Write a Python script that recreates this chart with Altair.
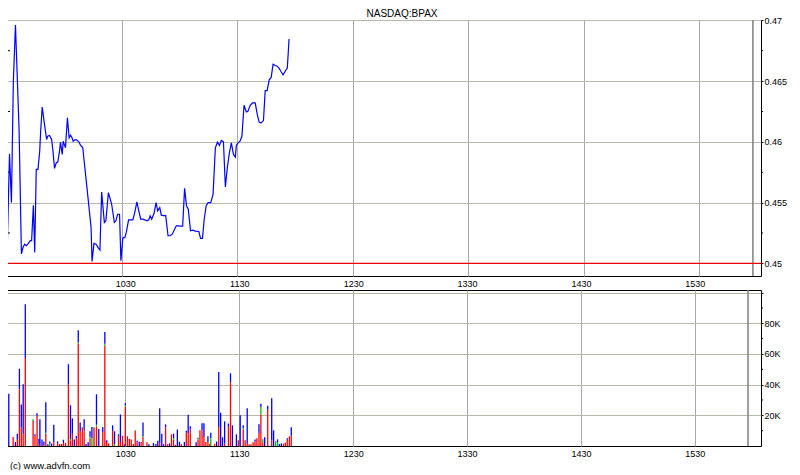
import altair as alt
import pandas as pd

FONT = "Liberation Sans"

# ---- price line: minutes after 09:30, last trade price ----
price_min = [
    0.0, 0.4, 1.6, 2.6, 3.6, 4.7, 6.6, 7.8, 8.6, 9.5,
    10.4, 11.4, 12.4, 13.1, 14.0, 14.7, 15.5, 16.4, 17.3, 17.8,
    18.6, 19.8, 20.9, 21.4, 22.4, 23.5, 24.2, 25.0, 25.9, 26.7,
    27.6, 28.1, 29.0, 29.5, 30.2, 30.7, 31.7, 32.6, 33.3, 34.0,
    34.7, 35.5, 36.4, 37.6, 38.5, 39.7, 40.4, 42.3, 44.0, 44.5,
    45.5, 46.6, 47.6, 48.6, 49.5,
    50.9, 51.7, 53.0, 54.0, 54.7, 56.1, 56.9, 57.8, 58.8, 59.5,
    60.5, 61.6, 62.3, 63.5, 64.7, 65.7, 66.7, 67.8, 68.8, 69.8,
    70.9, 71.9, 73.0, 74.0, 74.7, 75.5, 76.7, 77.8, 78.6, 79.7,
    80.5, 81.7, 82.8, 84.0, 85.0, 86.2, 87.4, 88.3, 89.1, 90.5,
    91.6, 92.6, 93.6, 94.5, 95.7, 96.9, 98.1,
    100.0, 100.9, 101.9, 102.8, 103.8, 104.8, 106.2, 107.4, 108.6, 109.7,
    110.7, 111.7, 112.8, 113.8, 114.8, 115.9, 116.9, 118.0, 119.0, 119.5,
    120.4, 121.4, 122.4, 123.5, 124.7, 125.5, 126.7, 127.9, 129.3, 130.4,
    131.4, 132.4, 133.6, 134.5, 135.5, 136.6, 137.6, 138.6, 139.7, 140.7,
    141.7, 142.7, 143.8, 144.8, 146.0, 146.9,
]
price_val = [
    0.45432, 0.45104, 0.45902, 0.45500, 0.46497, 0.46962, 0.46087, 0.45077, 0.45131, 0.45158,
    0.45145, 0.45164, 0.45186, 0.45186, 0.45478, 0.45090, 0.45773, 0.45773, 0.45923, 0.46087,
    0.46287, 0.46142, 0.46019, 0.46046, 0.46052, 0.46019, 0.45923, 0.45781, 0.45828, 0.45833,
    0.45923, 0.45997, 0.45896, 0.46005, 0.45973, 0.45951, 0.46197, 0.46033, 0.46055, 0.46038,
    0.46005, 0.46016, 0.46016, 0.46000, 0.45973, 0.45951, 0.45842, 0.45555, 0.45295, 0.45016,
    0.45164, 0.45158, 0.45131, 0.45109, 0.45587,
    0.45336, 0.45350, 0.45582, 0.45527, 0.45486, 0.45336, 0.45350, 0.45404, 0.45404, 0.45022,
    0.45208, 0.45213, 0.45254, 0.45358, 0.45358, 0.45358, 0.45418, 0.45505, 0.45432, 0.45363,
    0.45363, 0.45358, 0.45350, 0.45358, 0.45391, 0.45363, 0.45410, 0.45500, 0.45432, 0.45459,
    0.45396, 0.45393, 0.45393, 0.45227, 0.45227, 0.45240, 0.45281, 0.45309, 0.45309, 0.45306,
    0.45306, 0.45617, 0.45473, 0.45445, 0.45268, 0.45273, 0.45265,
    0.45262, 0.45205, 0.45205, 0.45363, 0.45473, 0.45500, 0.45500, 0.45568, 0.45951, 0.45997,
    0.45970, 0.46011, 0.46000, 0.45628, 0.45787, 0.45910, 0.45992, 0.45896, 0.45874, 0.45970,
    0.45992, 0.46005, 0.46046, 0.46301, 0.46246, 0.46251, 0.46301, 0.46320, 0.46320, 0.46224,
    0.46161, 0.46156, 0.46175, 0.46421, 0.46421, 0.46511, 0.46530, 0.46639, 0.46628, 0.46623,
    0.46607, 0.46579, 0.46552, 0.46579, 0.46607, 0.46847,
]

# ---- volume bars: minutes after 09:30, split in thousands of shares ----
vol_min = [
    -1.4, 0.9, 2.1, 3.1, 4.2, 5.2, 6.2, 7.3, 11.4, 12.4,
    13.5, 14.5, 15.0, 16.1, 17.1, 18.1, 19.2, 20.2, 21.2, 22.3,
    24.3, 25.4, 26.4, 27.4, 28.5, 30.0, 31.1, 32.1, 33.1, 34.2,
    35.2, 36.2, 37.3, 38.3, 39.3, 40.4, 41.4, 42.4, 43.5, 44.8,
    46.0, 48.1, 49.2, 50.2, 51.2, 53.3, 54.3, 56.4, 57.4, 58.5,
    59.5, 60.0, 61.1, 62.1, 63.1, 64.2, 65.2, 66.2, 67.3, 68.3,
    69.3, 71.4, 72.4, 74.8, 76.1, 77.1, 78.1, 79.2, 80.2, 81.2,
    82.3, 83.3, 84.3, 85.4, 86.4, 87.4, 88.5, 89.5, 91.1, 92.1,
    93.1, 94.2, 97.3, 98.3, 99.3, 100.4, 101.4, 102.4, 103.5, 104.5,
    105.0, 107.1, 108.1, 109.2, 110.2, 111.2, 112.3, 114.3, 115.4, 116.4,
    118.5, 119.5, 120.5, 122.1, 123.1, 124.2, 125.2, 126.2, 127.3, 128.3,
    129.3, 130.4, 131.4, 132.4, 133.4, 135.0, 137.1, 138.1, 139.2, 140.2,
    141.2, 142.2, 143.3, 144.3, 145.3, 146.4, 147.4,
]
vol_red_k = [
    0, 5.9, 0, 4.1, 37.0, 12.0, 8.0, 57.4, 16.3, 6.3,
    19.8, 1.5, 0, 0, 0.5, 8.0, 0, 0, 0, 2.6,
    1.5, 1.3, 1.3, 2.0, 2.0, 40.0, 3.7, 8.0, 0, 4.8,
    66.7, 9.3, 12.0, 10.2, 0, 0, 5.0, 0, 11.7, 12.8,
    0, 8.9, 65.4, 2.6, 1.7, 9.8, 0, 6.5, 2.6, 6.7,
    0, 25.6, 6.3, 4.8, 4.3, 1.3, 9.8, 2.4, 0, 2.6,
    5.9, 2.4, 0, 0, 0, 0, 2.2, 0, 0, 12.2,
    1.1, 0, 7.6, 4.1, 0.7, 0, 0, 1.1, 0, 9.1,
    8.0, 10.7, 0, 4.1, 10.2, 10.2, 5.9, 2.6, 2.6, 1.5,
    0, 1.5, 0, 12.4, 0, 0, 1.5, 13.0, 41.5, 0,
    0, 3.7, 0, 10.7, 3.7, 1.5, 1.1, 1.1, 2.4, 3.0,
    5.0, 8.5, 20.6, 2.0, 0, 23.7, 3.7, 0, 0, 0,
    0, 0, 1.5, 2.2, 4.1, 6.3, 6.7,
]
vol_green_k = [
    0, 0, 0, 0, 0, 0, 0, 0, 1.1, 0,
    0, 0, 0, 0, 0, 0.7, 0, 1.5, 0, 0,
    0, 0, 0, 0, 0, 0, 0.7, 0, 0, 0,
    0.7, 0, 0.4, 0, 0, 0, 1.0, 5.2, 0.5, 1.1,
    0, 0, 1.3, 0, 0, 0, 1.3, 0, 0, 0,
    0, 0.9, 0, 0, 0, 0, 0.4, 0, 0, 0,
    0.7, 0, 0, 0, 0, 0, 0, 0, 0, 0,
    0, 0, 0, 1.1, 0, 0, 0, 0, 0, 0,
    0, 0, 0, 0.7, 0, 0, 0, 0, 0, 0,
    5.2, 0, 0, 0, 0, 0, 0, 0, 0, 0,
    0, 0, 0, 0.9, 0, 0, 0, 0, 0, 0,
    0, 0, 4.8, 1.7, 0, 0, 0, 0, 2.6, 2.6,
    0, 0, 0, 0, 0, 0, 0,
]
vol_blue_k = [
    34.1, 0, 2.6, 3.9, 13.4, 15.0, 32.2, 35.0, 0, 1.3,
    1.5, 3.3, 17.4, 4.3, 2.5, 19.8, 1.1, 1.5, 1.7, 11.3,
    1.5, 0, 0, 2.1, 0, 13.3, 22.1, 10.0, 4.3, 1.7,
    8.0, 6.1, 0, 7.2, 1.3, 2.4, 3.6, 7.2, 0, 19.8,
    11.1, 3.5, 7.6, 1.1, 0, 3.7, 8.3, 1.1, 18.0, 0,
    1.1, 1.3, 0, 0, 0, 0, 0, 1.1, 2.8, 0,
    8.8, 0, 1.1, 2.0, 1.3, 3.5, 22.4, 8.0, 1.1, 1.9,
    0, 1.7, 0, 2.8, 0, 10.7, 2.8, 0, 2.6, 0.9,
    12.4, 2.1, 2.4, 0.6, 0, 4.6, 8.9, 0, 3.7, 0,
    3.5, 0, 3.0, 35.9, 21.7, 5.7, 14.6, 1.6, 5.9, 13.5,
    7.6, 0, 20.0, 1.9, 0, 23.1, 0, 0, 0, 1.3,
    0, 5.6, 2.2, 0.6, 5.7, 2.6, 27.4, 10.2, 0.4, 1.7,
    1.3, 1.7, 0, 0, 0.9, 0, 5.5,
]

prev_close = [0.45]
session_end = [388]
hour_ticks = [60, 120, 180, 240, 300, 360]
price_major = [0.45, 0.455, 0.46, 0.465, 0.47]
price_minor = [0.4525, 0.4575, 0.4625, 0.4675]
vol_major = [20000, 40000, 60000, 80000, 100000]
vol_minor = [10000, 30000, 50000, 70000, 90000]

W, H1, H2 = 754, 256, 156
GRID_X = "#a8a8a8"
GRID_Y = "#b8b8a8"

price_df = pd.DataFrame({"t": price_min, "price": price_val})
rows = []
for t, r, g, b in zip(vol_min, vol_red_k, vol_green_k, vol_blue_k):
    base = 0.0
    for part, v in (("red", r), ("green", g), ("blue", b)):
        if v > 0:
            rows.append({"t": t, "part": part, "v0": base * 1000, "v1": (base + v) * 1000})
            base += v
vol_df = pd.DataFrame(rows)

x_scale = alt.Scale(domain=[0.3, 392.2], nice=False, zero=False)
p_scale = alt.Scale(domain=[0.448956, 0.47003], nice=False, zero=False)
v_scale = alt.Scale(domain=[0, 101700], nice=False)
hhmm = "'' + (floor((datum.value + 570) / 60) * 100 + (datum.value + 570) % 60)"

# shared axis definitions (re-used in every layer so they merge cleanly)
x_axis_top_panel = alt.Axis(values=hour_ticks, grid=True, gridColor=GRID_X, labels=False,
                            ticks=False, tickSize=0, domain=False, minExtent=0, maxExtent=0)
y_axis_price = alt.Axis(orient="right", values=price_major, format=".3~f", grid=True,
                        gridColor=GRID_Y, tickSize=2, tickColor="black", labelPadding=1,
                        domain=False)
x_axis_vol_bottom = alt.Axis(orient="bottom", values=hour_ticks, labelExpr=hhmm, grid=True,
                             gridColor=GRID_X, ticks=False, tickSize=0, domain=False,
                             labelPadding=3)
x_axis_vol_top = alt.Axis(orient="top", values=hour_ticks, labelExpr=hhmm, grid=False,
                          ticks=False, tickSize=0, domain=False, labelPadding=2,
                          minExtent=9, maxExtent=9)
y_axis_vol = alt.Axis(orient="right", values=vol_major, grid=True, gridColor=GRID_Y,
                      labelExpr="datum.value >= 100000 ? '' : (datum.value / 1000) + 'K'",
                      tickSize=2, tickColor="black", labelPadding=1, domain=False)

# ---------------- top panel ----------------
line = alt.Chart(price_df).mark_line(color="#0000ff", strokeWidth=1.2, clip=True).encode(
    x=alt.X("t:Q", scale=x_scale, title=None, axis=x_axis_top_panel),
    y=alt.Y("price:Q", scale=p_scale, title=None, axis=y_axis_price),
)
red_rule = alt.Chart(pd.DataFrame({"price": prev_close})).mark_rule(
    color="#ee0000", strokeWidth=1.2).encode(
    y=alt.Y("price:Q", scale=p_scale, title=None, axis=y_axis_price)
)
sess_top = alt.Chart(pd.DataFrame({"t": session_end})).mark_rule(
    color="#808080", strokeWidth=1.5).encode(
    x=alt.X("t:Q", scale=x_scale, title=None, axis=x_axis_top_panel)
)
pminor = pd.DataFrame({"price": price_minor})
minor_l = alt.Chart(pminor).mark_rule(color="black").encode(
    y=alt.Y("price:Q", scale=p_scale, title=None, axis=y_axis_price),
    x=alt.value(0), x2=alt.value(3))
minor_r = alt.Chart(pminor).mark_rule(color="black").encode(
    y=alt.Y("price:Q", scale=p_scale, title=None, axis=y_axis_price),
    x=alt.value(W), x2=alt.value(W + 2))

top = alt.layer(sess_top, red_rule, minor_l, minor_r, line).properties(
    width=W, height=H1,
    title=alt.TitleParams("NASDAQ:BPAX", fontSize=10, font=FONT, fontWeight="normal",
                          anchor="middle", dx=18, offset=-3, color="black"),
)

# ---------------- volume panel ----------------
bars = alt.Chart(vol_df).mark_bar(size=1.3, clip=True).encode(
    x=alt.X("t:Q", scale=x_scale, title=None, axis=x_axis_vol_bottom),
    y=alt.Y("v0:Q", scale=v_scale, title=None, axis=y_axis_vol),
    y2="v1:Q",
    color=alt.Color("part:N", legend=None,
                    scale=alt.Scale(domain=["red", "green", "blue"],
                                    range=["#ff0000", "#00c000", "#0000ff"])),
)
sess_bot = alt.Chart(pd.DataFrame({"t": session_end})).mark_rule(
    color="#808080", strokeWidth=1.5).encode(
    x=alt.X("t:Q", scale=x_scale, title=None, axis=x_axis_vol_top)
)
vminor = pd.DataFrame({"v0": vol_minor})
vminor_r = alt.Chart(vminor).mark_rule(color="black").encode(
    y=alt.Y("v0:Q", scale=v_scale, title=None, axis=y_axis_vol),
    x=alt.value(W), x2=alt.value(W + 2))

bottom = alt.layer(bars, sess_bot, vminor_r).resolve_axis(x="independent").properties(
    width=W, height=H2)

chart = alt.vconcat(top, bottom, spacing=0).properties(
    background="white",
    padding={"left": -3, "top": 0, "right": 0, "bottom": 0},
    title=alt.TitleParams("(c) www.advfn.com", orient="bottom", anchor="start", fontSize=9.5,
                          font=FONT, fontWeight="normal", color="black", offset=2, dx=4),
).configure_view(stroke="black", strokeWidth=1).configure_axis(
    labelFont=FONT, labelFontSize=9, labelColor="black"
)

chart.save("out.html", embed_options={"renderer": "svg", "actions": False})
